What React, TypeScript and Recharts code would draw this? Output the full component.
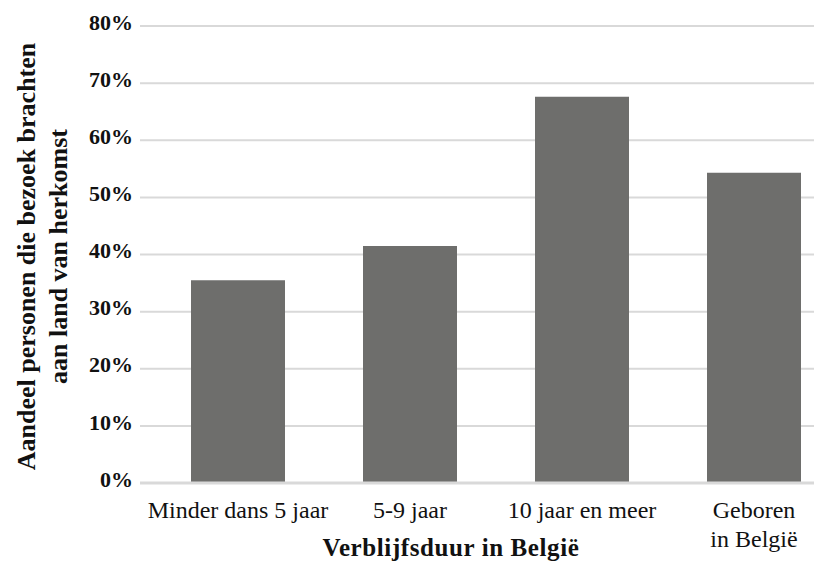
import { BarChart, Bar, XAxis, YAxis, CartesianGrid, Label } from 'recharts'

// Verblijfsduur categories (\n = line break in the tick label)
const categories = ['Minder dans 5 jaar', '5-9 jaar', '10 jaar en meer', 'Geboren\nin België']
// share of people who visited their country of origin, in %
const shares = [35.5, 41.5, 67.6, 54.3]
const yTicks = [0, 10, 20, 30, 40, 50, 60, 70, 80]

const FONT = '"Liberation Serif", "Times New Roman", serif'
const GRID = '#d9d9d9'
const BAR = '#6e6e6c'

const data = categories.map((name, i) => ({ name, value: shares[i] }))

function XTick({ x, y, payload }: any) {
  const lines = String(payload.value).split('\n')
  return (
    <text x={x} y={y} textAnchor="middle" fontFamily={FONT} fontSize={24} fill="#111">
      {lines.map((line, i) => (
        <tspan key={i} x={x} dy={i === 0 ? 35 : 29}>
          {line}
        </tspan>
      ))}
    </text>
  )
}

function YTick({ x, y, payload }: any) {
  return (
    <text x={x - 7} y={y - 4} dy="0.35em" textAnchor="end" fontFamily={FONT} fontSize={22} fontWeight="bold" fill="#111">
      {`${payload.value}%`}
    </text>
  )
}

function YTitle({ viewBox }: any) {
  const cy = viewBox.y + viewBox.height / 2 + 2
  return (
    <g fontFamily={FONT} fontSize={26} fontWeight="bold" fill="#111" textAnchor="middle">
      <text transform={`translate(35, ${cy}) rotate(-90)`}>Aandeel personen die bezoek brachten</text>
      <text transform={`translate(67, ${cy}) rotate(-90)`}>aan land van herkomst</text>
    </g>
  )
}

function XTitle({ viewBox }: any) {
  return (
    <text x={viewBox.x + 311} y={viewBox.y + 73} textAnchor="middle" fontFamily={FONT} fontSize={25} fontWeight="bold" letterSpacing={0.6} fill="#111">
      Verblijfsduur in België
    </text>
  )
}

export default function App() {
  return (
    <div style={{ position: 'absolute', left: 0, top: 0, width: 814, height: 568, overflow: 'hidden', background: '#fff' }}>
      <BarChart width={840} height={568} data={data} margin={{ top: 26, right: 0, bottom: 0, left: 0 }}>
        <CartesianGrid horizontal vertical={false} stroke={GRID} strokeWidth={2} />
        <XAxis
          dataKey="name"
          height={85}
          padding={{ left: 12, right: 0 }}
          tickLine={false}
          tickSize={0}
          tickMargin={0}
          axisLine={{ stroke: GRID, strokeWidth: 3 }}
          tick={<XTick />}
          interval={0}
        >
          <Label content={<XTitle />} />
        </XAxis>
        <YAxis
          width={140}
          domain={[0, 80]}
          ticks={yTicks}
          axisLine={false}
          tickLine={false}
          tickSize={0}
          tickMargin={0}
          tick={<YTick />}
        >
          <Label content={<YTitle />} />
        </YAxis>
        <Bar dataKey="value" fill={BAR} barSize={94} isAnimationActive={false} />
      </BarChart>
    </div>
  )
}
